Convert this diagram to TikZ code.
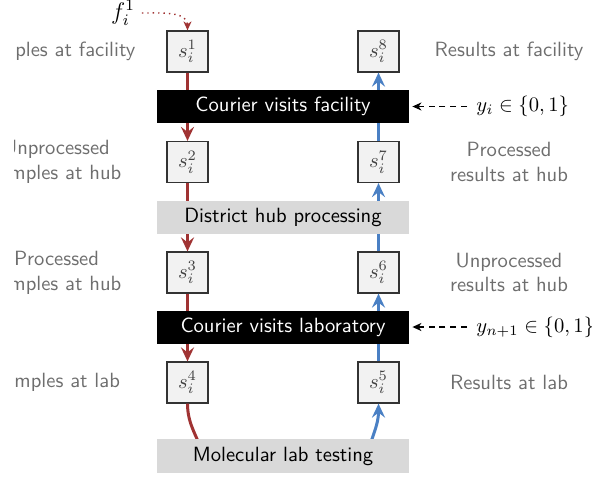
\RequirePackage{fix-cm}
\documentclass[tikz,border=0pt]{standalone}
\usetikzlibrary{arrows.meta}
\definecolor{flowred}{HTML}{A03333}
\definecolor{flowblue}{HTML}{4A80C4}
\definecolor{labgray}{HTML}{6E6E6E}
\definecolor{boxfill}{HTML}{F2F2F2}
\definecolor{barlight}{HTML}{D9D9D9}
\newcommand{\diagfont}{\fontsize{10.3}{12.4}\selectfont}
\begin{document}
\begin{tikzpicture}[x=0.5pt,y=-0.5pt,
  every node/.style={font=\diagfont},
  statebox/.style={draw=black!80, fill=boxfill, line width=0.6pt,
    minimum size=20.5pt, inner sep=0pt, text=black!75},
  darkbar/.style={fill=black, text=white, minimum width=126pt,
    minimum height=16.5pt, inner sep=0pt, font=\diagfont\sffamily},
  lightbar/.style={fill=barlight, text=black, minimum width=126pt,
    minimum height=16.5pt, inner sep=0pt, font=\diagfont\sffamily},
  sidelabel/.style={text=labgray, font=\diagfont\sffamily, align=center},
  redflow/.style={draw=flowred, line width=1.5pt,
    -{Stealth[length=7pt,width=6.5pt,inset=2.5pt]}},
  blueflow/.style={draw=flowblue, line width=1.5pt,
    -{Stealth[length=7pt,width=6.5pt,inset=2.5pt]}},
  decision/.style={draw=black, line width=0.8pt,
    dash pattern=on 3pt off 2.4pt,
    -{Stealth[length=4.5pt,width=4pt,inset=1.4pt]}}]
\useasboundingbox (0,0) rectangle (592,476);

% state boxes
\node[statebox] (s1) at (187.5,51.5) {$s_i^1$};
\node[statebox] (s2) at (187.5,162) {$s_i^2$};
\node[statebox] (s3) at (187.5,272.5) {$s_i^3$};
\node[statebox] (s4) at (187.5,382.5) {$s_i^4$};
\node[statebox] (s8) at (378.5,51.5) {$s_i^8$};
\node[statebox] (s7) at (378.5,162) {$s_i^7$};
\node[statebox] (s6) at (378.5,272.5) {$s_i^6$};
\node[statebox] (s5) at (378.5,382.5) {$s_i^5$};

% flows (drawn beneath the activity bars)
\coordinate (labin) at (204,458);
\coordinate (labout) at (366,458);
\draw[redflow] (s1) -- (s2);
\draw[redflow] (s2) -- (s3);
\draw[redflow] (s3) -- (s4);
\draw[draw=flowred, line width=1.5pt] (s4.south) to[out=-90,in=105] (labin);
\draw[blueflow] (labout) to[out=75,in=-90] (s5.south);
\draw[blueflow] (s5) -- (s6);
\draw[blueflow] (s6) -- (s7);
\draw[blueflow] (s7) -- (s8);

% activity bars
\node[darkbar] (cf) at (283,106.5) {Courier visits facility};
\node[lightbar] (hub) at (283,217) {District hub processing};
\node[darkbar] (cl) at (283,327) {Courier visits laboratory};
\node[lightbar, minimum height=17pt] (lab) at (283,456) {Molecular lab testing};

% side labels; the left column is trimmed at its outer edge
\begin{scope}
\clip (14,0) rectangle (592,476);
\node[sidelabel] (l1) at (56.5,51.5) {Samples at facility};
\node[sidelabel] (l2) at (56.5,162) {Unprocessed\\samples at hub};
\node[sidelabel] (l3) at (56.5,272.5) {Processed\\samples at hub};
\node[sidelabel] (l4) at (56.5,382.5) {Samples at lab};
\end{scope}
\node[sidelabel] (r1) at (509,51.5) {Results at facility};
\node[sidelabel] (r2) at (509,162) {Processed\\results at hub};
\node[sidelabel] (r3) at (509,272.5) {Unprocessed\\results at hub};
\node[sidelabel] (r4) at (509,382.5) {Results at lab};

% inflow and decisions
\node[font=\large] (f) at (123,13) {$f_i^1$};
\draw[draw=flowred, line width=0.7pt, dotted,
  -{Stealth[length=4.5pt,width=4pt,inset=1.4pt]}]
  (f.east) to[out=0,in=90] (s1.north);
\node[anchor=west, inner sep=4.5pt] (yi) at (467,106.5) {$y_i \in \{0,1\}$};
\node[anchor=west, inner sep=4.5pt] (yn) at (467,327) {$y_{n+1} \in \{0,1\}$};
\draw[decision] (yi.west) -- ([xshift=1.5pt]cf.east);
\draw[decision] (yn.west) -- ([xshift=1.5pt]cl.east);
\end{tikzpicture}
\end{document}
